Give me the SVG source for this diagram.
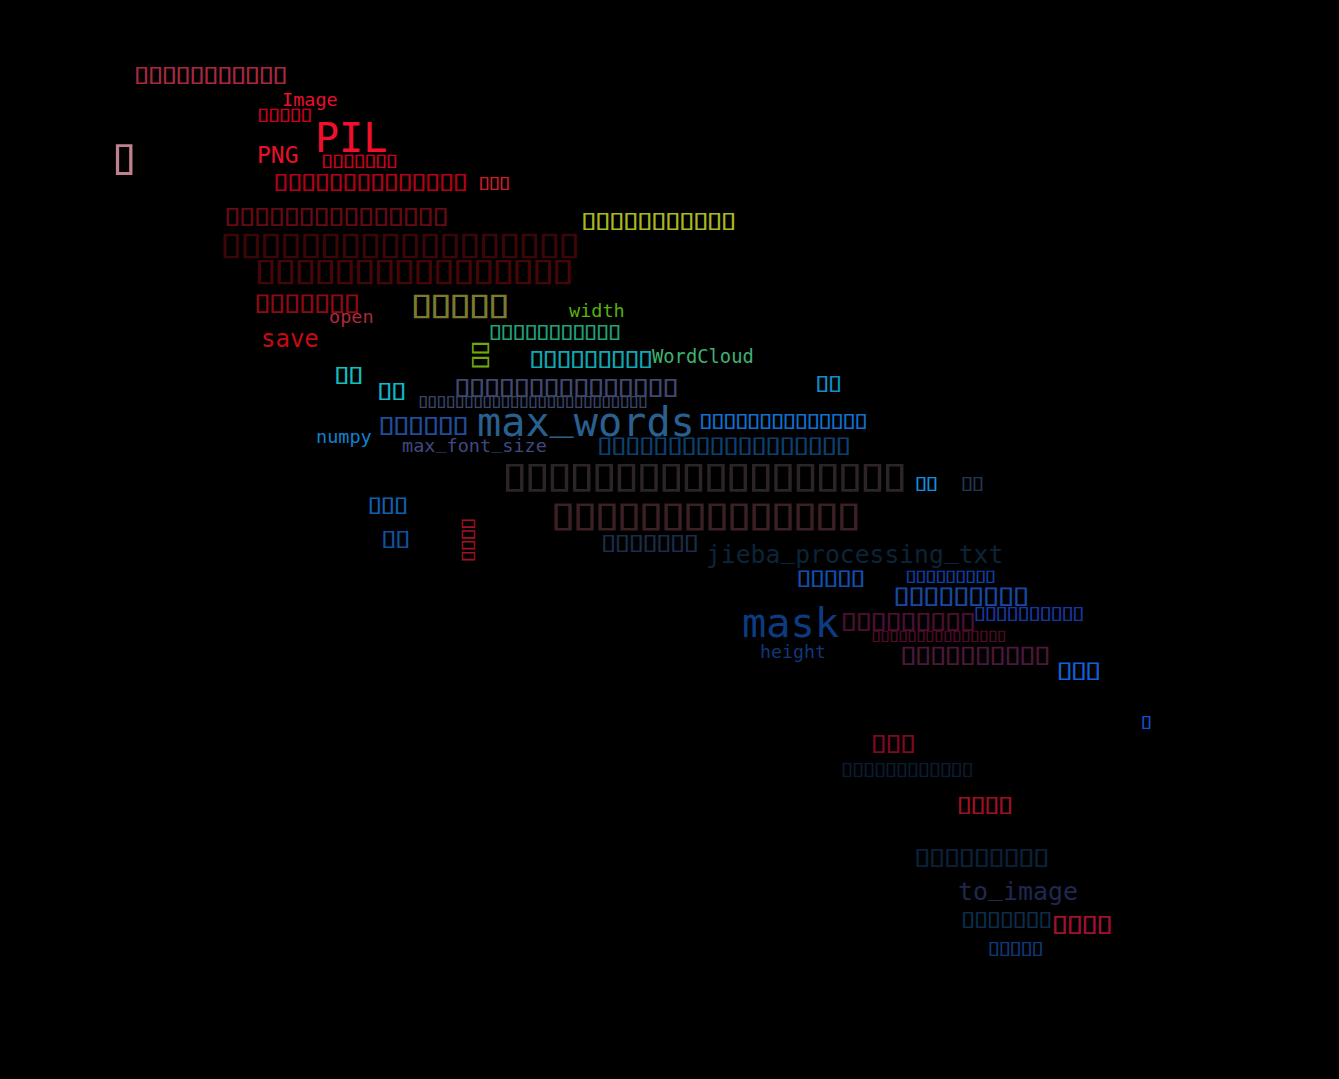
<svg xmlns="http://www.w3.org/2000/svg" width="1339" height="1079" viewBox="0 0 1339 1079">
<style>
text{font-family:"DejaVu Sans Mono","Liberation Mono",monospace;white-space:pre}
</style>
<rect width="1339" height="1079" fill="#000"/>
<g id="words">
<text id="w1" transform="translate(130.3,83.3) scale(1.316,1)" font-size="28.96" letter-spacing="-6.9" fill="#a82840">▯▯▯▯▯▯▯▯▯▯▯</text>
<text id="w2" x="282" y="106" font-size="18.5" fill="#e8102a">Image</text>
<text id="w3" transform="translate(254.1,120.7) scale(1.316,1)" font-size="22.54" letter-spacing="-5.37" fill="#c8001e">▯▯▯▯▯</text>
<text id="w4" x="315" y="152" font-size="40" fill="#f0102c">PIL</text>
<text id="w5" transform="translate(106.8,173.3) scale(1.12,1)" font-size="51.7" fill="#c08090">▯</text>
<text id="w6" x="257" y="162.7" font-size="23" fill="#e8102a">PNG</text>
<text id="w7" transform="translate(318.1,166.7) scale(1.316,1)" font-size="22.54" letter-spacing="-5.37" fill="#c8001e">▯▯▯▯▯▯▯</text>
<text id="w8" transform="translate(269.6,190) scale(1.316,1)" font-size="28.83" letter-spacing="-6.87" fill="#b0001a">▯▯▯▯▯▯▯▯▯▯▯▯▯▯</text>
<text id="w9" transform="translate(476.05,189) scale(1.316,1)" font-size="21.28" letter-spacing="-5.07" fill="#d01c28">▯▯▯</text>
<text id="w10" transform="translate(219.9,225) scale(1.316,1)" font-size="31.1" letter-spacing="-7.41" fill="#660a14">▯▯▯▯▯▯▯▯▯▯▯▯▯▯▯</text>
<text id="w11" transform="translate(214.6,257.3) scale(1.316,1)" font-size="41.55" letter-spacing="-9.9" fill="#3a0608">▯▯▯▯▯▯▯▯▯▯▯▯▯▯▯▯▯▯</text>
<text id="w12" transform="translate(249,283.3) scale(1.316,1)" font-size="41.42" letter-spacing="-9.87" fill="#460608">▯▯▯▯▯▯▯▯▯▯▯▯▯▯▯▯</text>
<text id="w13" transform="translate(249.9,311.7) scale(1.316,1)" font-size="31.22" letter-spacing="-7.44" fill="#8c0a12">▯▯▯▯▯▯▯</text>
<text id="w14" transform="translate(405.8,316.7) scale(1.316,1)" font-size="40.29" letter-spacing="-9.6" fill="#7a7a30">▯▯▯▯▯</text>
<text id="w15" transform="translate(577.6,229) scale(1.316,1)" font-size="29.21" letter-spacing="-6.96" fill="#a8b820">▯▯▯▯▯▯▯▯▯▯▯</text>
<text id="w16" x="569" y="317" font-size="18.5" fill="#58b010">width</text>
<text id="w17" x="329" y="323" font-size="18.5" fill="#b0283a">open</text>
<text id="w18" x="261" y="347" font-size="24" fill="#c80814">save</text>
<text id="w19" transform="translate(485.4,339.3) scale(1.316,1)" font-size="24.93" letter-spacing="-5.94" fill="#20a078">▯▯▯▯▯▯▯▯▯▯▯</text>
<text id="w20" transform="translate(488,373.4) rotate(-90) scale(1.316,1)" font-size="28.96" letter-spacing="-6.9" fill="#70a810">▯▯</text>
<text id="w21" transform="translate(525.4,366.7) scale(1.316,1)" font-size="28.45" letter-spacing="-6.78" fill="#10a8b0">▯▯▯▯▯▯▯▯▯</text>
<text id="w22" x="652" y="363" font-size="18.8" fill="#40b070">WordCloud</text>
<text id="w23" transform="translate(330.6,383) scale(1.316,1)" font-size="28.96" letter-spacing="-6.9" fill="#10c0c0">▯▯</text>
<text id="w24" transform="translate(373.6,399) scale(1.316,1)" font-size="28.96" letter-spacing="-6.9" fill="#10b8c8">▯▯</text>
<text id="w25" transform="translate(449.9,396) scale(1.316,1)" font-size="31.1" letter-spacing="-7.41" fill="#404870">▯▯▯▯▯▯▯▯▯▯▯▯▯▯▯</text>
<text id="w26" transform="translate(415.7,407.3) scale(1.316,1)" font-size="19.14" letter-spacing="-4.56" fill="#3a4468">▯▯▯▯▯▯▯▯▯▯▯▯▯▯▯▯▯▯▯▯▯▯▯▯▯</text>
<text id="w27" transform="translate(812,391) scale(1.316,1)" font-size="26.69" letter-spacing="-6.36" fill="#1090c8">▯▯</text>
<text id="w28" transform="translate(374.2,434) scale(1.316,1)" font-size="30.97" letter-spacing="-7.38" fill="#204c98">▯▯▯▯▯▯</text>
<text id="w29" x="477" y="436" font-size="40.2" fill="#2a6090">max<tspan dy="-7.6">_</tspan><tspan dy="7.6">words</tspan></text>
<text id="w30" transform="translate(696.1,428.3) scale(1.316,1)" font-size="24.93" letter-spacing="-5.94" fill="#1070d0">▯▯▯▯▯▯▯▯▯▯▯▯▯▯</text>
<text id="w31" x="316" y="443" font-size="18.5" fill="#1080d0">numpy</text>
<text id="w32" x="402" y="452" font-size="18.5" fill="#404880">max<tspan dy="-3.5">_</tspan><tspan dy="3.5">font</tspan><tspan dy="-3.5">_</tspan><tspan dy="3.5">size</tspan></text>
<text id="w33" transform="translate(593.5,454) scale(1.316,1)" font-size="29.33" letter-spacing="-6.99" fill="#0c4070">▯▯▯▯▯▯▯▯▯▯▯▯▯▯▯▯▯▯</text>
<text id="w34" transform="translate(496.3,490) scale(1.316,1)" font-size="46.71" letter-spacing="-11.13" fill="#2c2426">▯▯▯▯▯▯▯▯▯▯▯▯▯▯▯▯▯▯</text>
<text id="w35" transform="translate(911.7,490) scale(1.316,1)" font-size="23.29" letter-spacing="-5.55" fill="#1090e0">▯▯</text>
<text id="w36" transform="translate(957.7,490) scale(1.316,1)" font-size="23.29" letter-spacing="-5.55" fill="#203850">▯▯</text>
<text id="w37" transform="translate(363.9,512.7) scale(1.316,1)" font-size="27.57" letter-spacing="-6.57" fill="#1060b0">▯▯▯</text>
<text id="w38" transform="translate(544.8,529) scale(1.316,1)" font-size="45.95" letter-spacing="-10.95" fill="#3c2024">▯▯▯▯▯▯▯▯▯▯▯▯▯▯</text>
<text id="w39" transform="translate(377.6,546.7) scale(1.316,1)" font-size="28.96" letter-spacing="-6.9" fill="#1050a0">▯▯</text>
<text id="w40" transform="translate(474,565.2) rotate(-90) scale(1.316,1)" font-size="22.66" letter-spacing="-5.4" fill="#a01020">▯▯▯▯</text>
<text id="w41" transform="translate(597.3,550.7) scale(1.316,1)" font-size="28.83" letter-spacing="-6.87" fill="#1c2c48">▯▯▯▯▯▯▯</text>
<text id="w42" x="706" y="563" font-size="24.7" fill="#0c2438">jieba<tspan dy="-4.7">_</tspan><tspan dy="4.7">processing</tspan><tspan dy="-4.7">_</tspan><tspan dy="4.7">txt</tspan></text>
<text id="w43" transform="translate(792.8,586) scale(1.316,1)" font-size="28.2" letter-spacing="-6.72" fill="#1050b0">▯▯▯▯▯</text>
<text id="w44" transform="translate(903.1,581.7) scale(1.316,1)" font-size="20.77" letter-spacing="-4.95" fill="#1040a8">▯▯▯▯▯▯▯▯▯</text>
<text id="w45" transform="translate(889.2,605) scale(1.316,1)" font-size="31.22" letter-spacing="-7.44" fill="#1848a0">▯▯▯▯▯▯▯▯▯</text>
<text id="w46" x="742" y="637" font-size="40.3" fill="#0c3c80">mask</text>
<text id="w47" transform="translate(836.5,630) scale(1.316,1)" font-size="31.1" letter-spacing="-7.41" fill="#4a1030">▯▯▯▯▯▯▯▯▯</text>
<text id="w48" transform="translate(970.7,620) scale(1.316,1)" font-size="22.91" letter-spacing="-5.46" fill="#1838a0">▯▯▯▯▯▯▯▯▯▯</text>
<text id="w49" transform="translate(868.8,641) scale(1.316,1)" font-size="18.76" letter-spacing="-4.47" fill="#500c28">▯▯▯▯▯▯▯▯▯▯▯▯▯▯▯</text>
<text id="w50" x="760" y="658" font-size="18.3" fill="#103878">height</text>
<text id="w51" transform="translate(895.9,664) scale(1.316,1)" font-size="31.16" letter-spacing="-7.43" fill="#4a1838">▯▯▯▯▯▯▯▯▯▯</text>
<text id="w52" transform="translate(1052.5,679) scale(1.316,1)" font-size="29.71" letter-spacing="-7.08" fill="#1060d8">▯▯▯</text>
<text id="w53" transform="translate(1138.3,728.3) scale(1.316,1)" font-size="21.4" letter-spacing="-5.1" fill="#1050d0">▯</text>
<text id="w54" transform="translate(866.6,751.7) scale(1.316,1)" font-size="30.47" letter-spacing="-7.26" fill="#7a0a20">▯▯▯</text>
<text id="w55" transform="translate(838,776) scale(1.316,1)" font-size="22.91" letter-spacing="-5.46" fill="#0c1c30">▯▯▯▯▯▯▯▯▯▯▯▯</text>
<text id="w56" transform="translate(953,813.3) scale(1.316,1)" font-size="28.71" letter-spacing="-6.84" fill="#a01024">▯▯▯▯</text>
<text id="w57" transform="translate(909.9,866) scale(1.316,1)" font-size="31.1" letter-spacing="-7.41" fill="#0c2038">▯▯▯▯▯▯▯▯▯</text>
<text id="w58" x="958" y="900" font-size="24.9" fill="#202850">to<tspan dy="-4.7">_</tspan><tspan dy="4.7">image</tspan></text>
<text id="w59" transform="translate(957.3,926.7) scale(1.316,1)" font-size="26.94" letter-spacing="-6.42" fill="#0c2c48">▯▯▯▯▯▯▯</text>
<text id="w60" transform="translate(1047.5,933.3) scale(1.316,1)" font-size="31.1" letter-spacing="-7.41" fill="#a01030">▯▯▯▯</text>
<text id="w61" transform="translate(984.8,955) scale(1.316,1)" font-size="22.79" letter-spacing="-5.43" fill="#103878">▯▯▯▯▯</text>
</g>
</svg>
